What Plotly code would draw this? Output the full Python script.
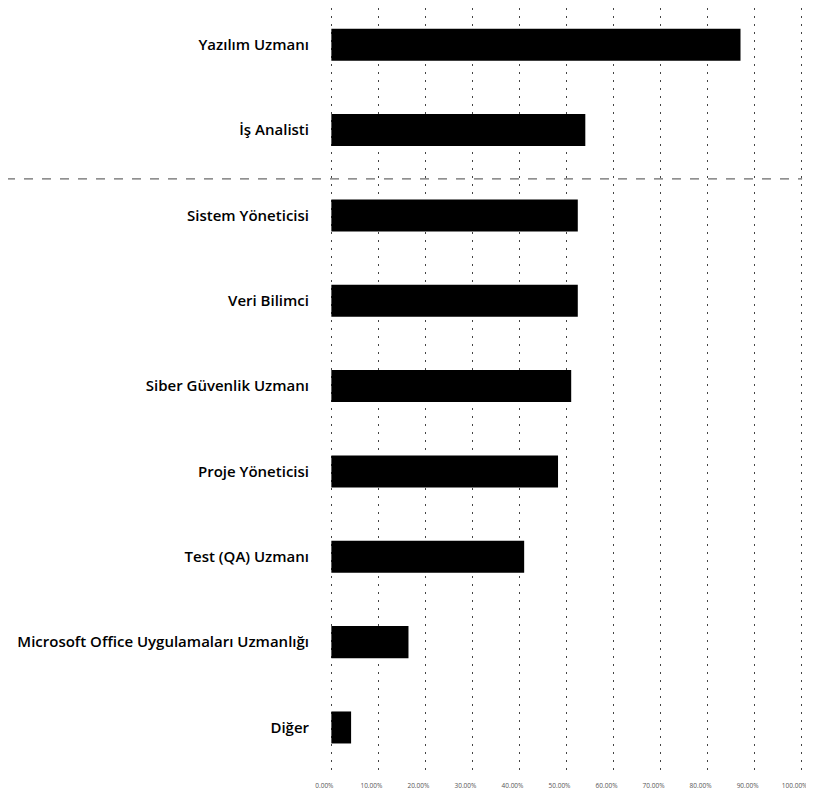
import plotly.graph_objects as go

# Roles (top to bottom) and their shares
roles = ['Yazılım Uzmanı', 'İş Analisti', 'Sistem Yöneticisi', 'Veri Bilimci',
         'Siber Güvenlik Uzmanı', 'Proje Yöneticisi', 'Test (QA) Uzmanı',
         'Microsoft Office Uygulamaları Uzmanlığı', 'Diğer']
shares = [0.87, 0.54, 0.524, 0.524, 0.51, 0.482, 0.41, 0.164, 0.042]

tick_vals = [i / 10 for i in range(11)]

fig = go.Figure(go.Bar(
    x=shares, y=roles, orientation='h',
    marker=dict(color='black', line=dict(width=0)),
    width=0.375,
))

# page body adds 8px margin, so the figure is a little smaller than the window
fig.update_layout(
    width=806, height=794,
    margin=dict(l=321, r=10, t=0, b=31, autoexpand=False),
    paper_bgcolor='white', plot_bgcolor='white',
    showlegend=False,
    font=dict(family='Open Sans', color='black'),
)

fig.update_xaxes(
    range=[-0.005, 1.005], tickvals=tick_vals, tickformat='.2%',
    showgrid=True, gridcolor='#444', gridwidth=1, griddash='2px,6px',
    zeroline=False, showline=False, automargin=False,
    tickfont=dict(size=6.5, color='#555'), ticklabeloverflow='allow',
    ticklabelshift=-7, ticklabelstandoff=9,
)
fig.update_yaxes(
    categoryorder='array', categoryarray=roles[::-1],
    range=[-0.51, 8.43],
    showgrid=False, showline=False, automargin=False,
    tickfont=dict(size=15, family='Open Sans', weight=600),
    ticklabelstandoff=19,
)

# faint dashed horizontal artefact across the page
fig.add_shape(type='line', xref='paper', yref='paper',
              x0=-0.68, x1=0.996, y0=0.776, y1=0.776,
              line=dict(color='#444', width=1, dash='dash'))

fig.write_html("out.html")
